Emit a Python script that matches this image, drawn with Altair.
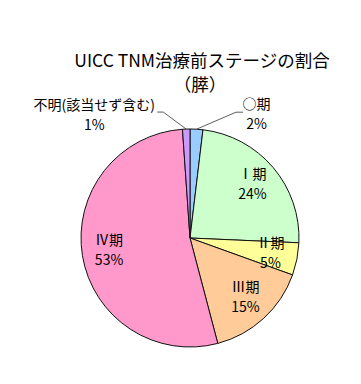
import math
import altair as alt
import pandas as pd

stages = ["○期", "Ⅰ期", "Ⅱ期", "Ⅲ期", "Ⅳ期", "不明(該当せず含む)"]
values = [1.9, 23.8, 4.8, 15.4, 53.0, 1.1]
pct_labels = ["2%", "24%", "5%", "15%", "53%", "1%"]
colors = ["#99CCFF", "#CCFFCC", "#FFFF99", "#FFCC99", "#FF99CC", "#CC99FF"]
title_lines = ["UICC TNM治療前ステージの割合", "（膵）"]

FONT = "Noto Sans CJK JP"
CX, CY, R = 182, 230, 109

df = pd.DataFrame({
    "idx": list(range(len(stages))),
    "stage": stages,
    "value": values,
    "label": [s + "\n" + p for s, p in zip(stages, pct_labels)],
})

base = alt.Chart(df).encode(
    theta=alt.Theta("value:Q", stack=True),
    order=alt.Order("idx:Q"),
    x=alt.value(CX),
    y=alt.value(CY),
)

arcs = base.mark_arc(outerRadius=R, stroke="#111111", strokeWidth=1).encode(
    color=alt.Color("stage:N", scale=alt.Scale(domain=stages, range=colors), legend=None)
)

inner = base.transform_calculate(
    inner="datum.idx >= 1 && datum.idx <= 4 ? datum.label : ''"
).mark_text(radius=82, dy=-10, font=FONT, fontSize=14, lineBreak="\n", lineHeight=20, color="black").encode(
    text="inner:N"
)

out0 = base.transform_calculate(
    t0="datum.idx == 0 ? datum.label : ''"
).mark_text(radius=R, dx=60, dy=-24, font=FONT, fontSize=14, lineBreak="\n", lineHeight=20, color="black").encode(
    text="t0:N"
)

out5 = base.transform_calculate(
    t5="datum.idx == 5 ? datum.label : ''"
).mark_text(radius=R, dx=-92, dy=-23, font=FONT, fontSize=14, lineBreak="\n", lineHeight=20, color="black").encode(
    text="t5:N"
)

# leader lines: start at slice edge (mid angle), go to elbow, then short horizontal
total = sum(values)
cum = 0.0
mids = []
for v in values:
    mids.append((cum + v / 2) / total * 2 * math.pi)
    cum += v
leader_offsets = {0: [(39.5, -17), (46.5, -17)], 5: [(-23, -17), (-29, -17)]}
rows = []
for i, offs in leader_offsets.items():
    ex = CX + R * math.sin(mids[i])
    ey = CY - R * math.cos(mids[i])
    rows.append({"stage": stages[i], "seq": 0, "px": ex, "py": ey})
    for k, (ox, oy) in enumerate(offs):
        rows.append({"stage": stages[i], "seq": k + 1, "px": ex + ox, "py": ey + oy})
leaders = alt.Chart(pd.DataFrame(rows)).mark_line(color="#333333", strokeWidth=0.8).encode(
    x=alt.X("px:Q", scale=None, axis=None),
    y=alt.Y("py:Q", scale=None, axis=None),
    detail="stage:N",
    order="seq:Q",
)

title1 = alt.Chart(pd.DataFrame({"t": [title_lines[0]]})).mark_text(
    font=FONT, fontSize=17.5, baseline="middle", color="black"
).encode(text="t:N", x=alt.value(194), y=alt.value(54))
title2 = alt.Chart(pd.DataFrame({"t": [title_lines[1]]})).mark_text(
    font=FONT, fontSize=17.5, baseline="middle", color="black"
).encode(text="t:N", x=alt.value(192), y=alt.value(78))

chart = alt.layer(arcs, inner, out0, out5, leaders, title1, title2).properties(
    width=345, height=368, autosize=alt.AutoSizeParams(type="none"), padding=0
).configure_view(stroke=None)

chart.save("out.html", embed_options={"renderer": "svg", "actions": False})
